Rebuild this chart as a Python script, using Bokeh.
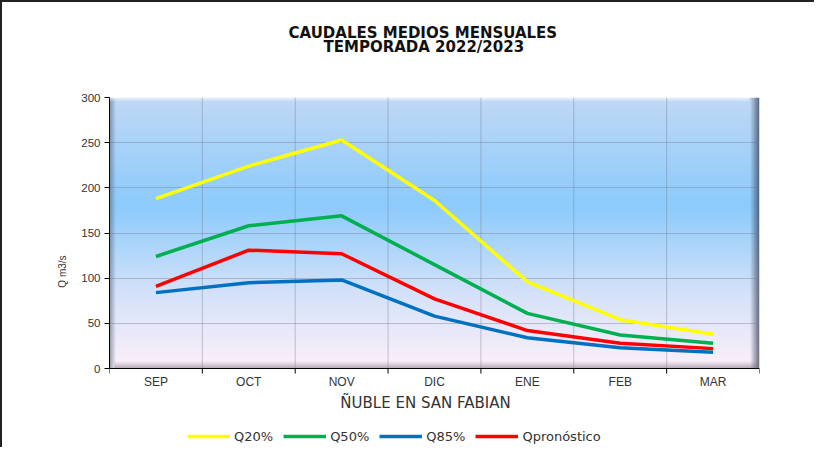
import numpy as np
from bokeh.plotting import figure
from bokeh.models import Range1d, FixedTicker, Title, Legend, LegendItem
from bokeh.core.properties import value
from bokeh.embed import file_html
from bokeh.resources import INLINE

months = ["SEP", "OCT", "NOV", "DIC", "ENE", "FEB", "MAR"]
q20 = [188, 224, 253, 186, 96, 54, 38]
q50 = [124, 158, 169, 115, 61, 37, 28]
q85 = [84, 95, 98, 58, 34, 23, 18]
qpron = [91, 131, 127, 77, 42, 28, 22]
y_ticks = [0, 50, 100, 150, 200, 250, 300]
YMAX = 300

FONT = "Liberation Sans"
WFONT = "DejaVu Sans"

PLOT_H = 271          # pixel height of the chart area (0..300)
FRAME_H = 348         # frame extends below to hold axis labels and legend
ext = YMAX * (FRAME_H - PLOT_H) / PLOT_H
px = YMAX / PLOT_H    # data units per pixel

p = figure(frame_width=650, frame_height=FRAME_H, output_backend="svg", toolbar_location=None,
           x_range=Range1d(0, len(months)), y_range=Range1d(-ext, YMAX), title=None,
           min_border_left=107, min_border_right=55, min_border_top=95, min_border_bottom=2)
p.outline_line_color = None
p.background_fill_color = "white"
p.styles = {"border-top": "2px solid #222", "border-left": "2px solid #222"}

# gradient background with bevel (styling)
H, W = PLOT_H, 650
t = np.linspace(0, 1, H)[:, None]
stops_t = [0.0, 0.4, 0.72, 1.0]
stops_c = np.array([[192, 216, 246], [140, 203, 252], [212, 226, 249], [253, 240, 250]], float)
base = np.zeros((H, W, 3))
for c in range(3):
    base[:, :, c] = np.interp(t[:, 0], stops_t, stops_c[:, c])[:, None]
xx = np.arange(W)[None, :]
yy = np.arange(H)[:, None]
def blend(img, mask, col):
    m = mask[..., None]
    return img * (1 - m) + np.array(col, float) * m
left = np.clip(1 - xx / 6.0, 0, 1) * 0.55 * np.ones((H, 1))
base = blend(base, left, (85, 100, 125))
right = np.clip((xx - (W - 10)) / 10.0, 0, 1) * 0.8 * np.ones((H, 1))
base = blend(base, right, (55, 65, 85))
bot = np.clip((yy - (H - 8)) / 8.0, 0, 1) * 0.6 * np.ones((1, W))
base = blend(base, bot * (xx > 4), (125, 110, 125))
top = np.clip(1 - yy / 4.0, 0, 1) * 0.6 * np.ones((1, W))
base = blend(base, top * (xx < W - 10), (255, 255, 255))
img = np.flipud(base).astype(np.uint8)
rgba = np.zeros((H, W), dtype=np.uint32)
view = rgba.view(dtype=np.uint8).reshape((H, W, 4))
view[:, :, :3] = img
view[:, :, 3] = 255
bg = p.image_rgba(image=[rgba], x=0, y=0, dw=len(months), dh=YMAX)
bg.level = "image"

# vertical dotted grid lines at category boundaries, limited to the chart area
inner = list(range(1, len(months)))
p.segment(x0=inner, y0=[0] * len(inner), x1=inner, y1=[YMAX] * len(inner),
          line_color="#707888", line_dash="1 1", line_alpha=0.8, line_width=1)

xs = [i + 0.5 for i in range(len(months))]
r20 = p.line(xs, q20, line_color="#ffff00", line_width=3.5)
r50 = p.line(xs, q50, line_color="#00b050", line_width=3.5)
r85 = p.line(xs, q85, line_color="#0070c0", line_width=3.5)
rpr = p.line(xs, qpron, line_color="#ff0000", line_width=3.5)

# x axis drawn at y = 0 (category boundaries carry the tick marks)
bounds = list(range(len(months) + 1))
p.xaxis.visible = False
p.segment(x0=[0], y0=[0], x1=[len(months)], y1=[0], line_color="black", line_width=1)
p.segment(x0=bounds, y0=[0] * len(bounds), x1=bounds, y1=[-5 * px] * len(bounds),
          line_color="black", line_width=1)
p.text(x=xs, y=[0] * len(xs), text=months, text_font=value(FONT), text_font_size="12px",
       text_color="#333", text_align="center", text_baseline="top", y_offset=6)
p.text(x=[len(months) / 2], y=[0], text=["ÑUBLE EN SAN FABIAN"], text_font=value(WFONT),
       text_font_size="15px", text_color="#333", text_align="center", text_baseline="top",
       y_offset=25, x_offset=-9)

# y axis
p.yaxis.bounds = (0, YMAX)
p.yaxis.ticker = FixedTicker(ticks=y_ticks)
p.yaxis.major_tick_out = 5
p.yaxis.major_tick_in = 0
p.yaxis.minor_tick_line_color = None
p.yaxis.axis_line_color = "black"
p.yaxis.major_label_text_font = FONT
p.yaxis.major_label_text_font_size = "11.5px"
p.yaxis.major_label_text_color = "#333"
p.yaxis.major_label_standoff = 4
p.yaxis.axis_label = "Q m3/s"
p.yaxis.axis_label_text_font = FONT
p.yaxis.axis_label_text_font_style = "normal"
p.yaxis.axis_label_text_font_size = "10px"
p.yaxis.axis_label_text_color = "#333"
p.yaxis.axis_label_standoff = 10

p.xgrid.visible = False
p.ygrid.ticker = FixedTicker(ticks=y_ticks[1:])
p.ygrid.grid_line_color = "#707888"
p.ygrid.grid_line_dash = "1 1"
p.ygrid.grid_line_alpha = 0.8
p.ygrid.grid_line_width = 1

# title (two lines) above a blank spacer
p.add_layout(Title(text="\u00a0", text_color="white", text_font_size="10px", standoff=29), "above")
p.add_layout(Title(text="TEMPORADA 2022/2023", align="left", offset=214, standoff=0,
                   text_font=WFONT, text_font_style="bold", text_font_size="15px",
                   text_color="#111"), "above")
p.add_layout(Title(text="CAUDALES MEDIOS MENSUALES", align="left", offset=179, standoff=-12,
                   text_font=WFONT, text_font_style="bold", text_font_size="15px",
                   text_color="#111"), "above")

legend = Legend(items=[LegendItem(label="Q20%", renderers=[r20]),
                       LegendItem(label="Q50%", renderers=[r50]),
                       LegendItem(label="Q85%", renderers=[r85]),
                       LegendItem(label="Qpronóstico", renderers=[rpr])],
                orientation="horizontal", location=(78, 1),
                glyph_width=43, glyph_height=12, label_height=16, label_standoff=4, spacing=10,
                label_text_font=WFONT, label_text_font_size="13px", label_text_color="#333",
                border_line_color=None, background_fill_alpha=0, padding=2, margin=0)
p.add_layout(legend, "center")

open("out.html", "w").write(file_html(p, INLINE))
